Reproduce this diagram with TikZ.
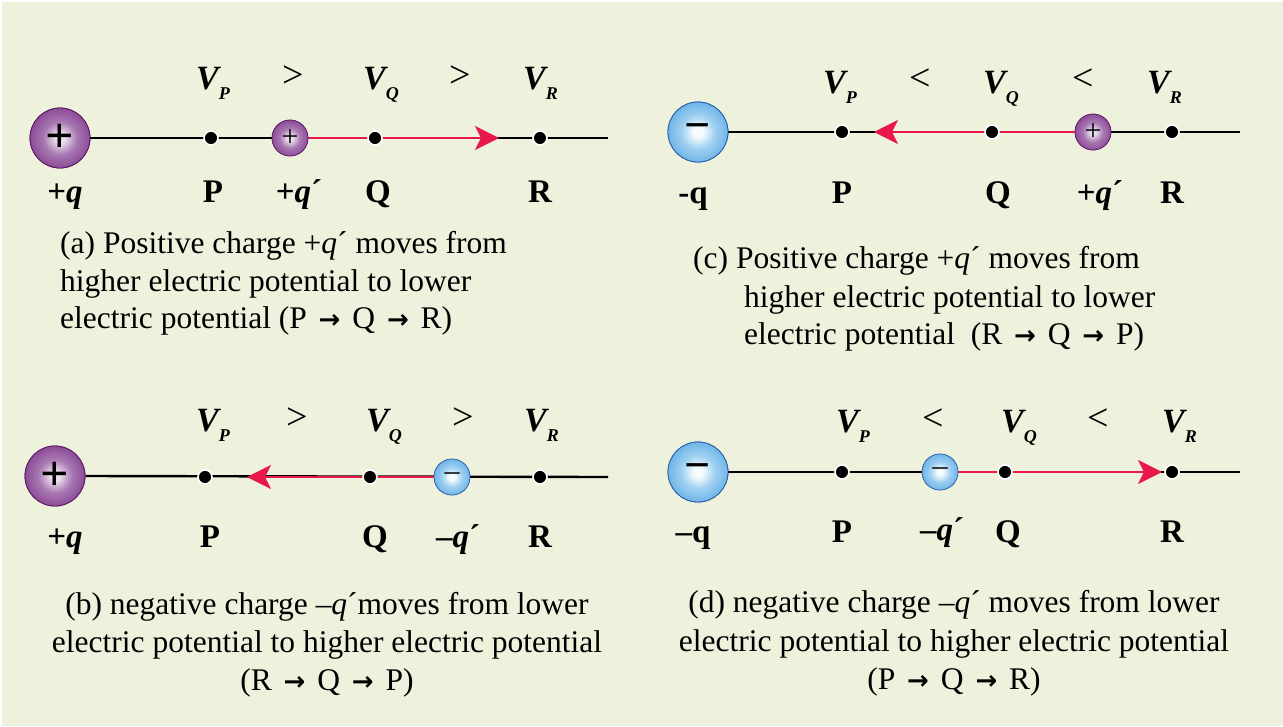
\documentclass[tikz,border=0pt]{standalone}
\usepackage{fontspec}
\setmainfont{Liberation Serif}
\newfontfamily\arrowfont{DejaVu Sans}
\usetikzlibrary{arrows.meta}
\definecolor{bgc}{HTML}{EEF1DC}
\definecolor{redc}{HTML}{E8194A}
\definecolor{pc0}{HTML}{EADEEC}
\definecolor{pc1}{HTML}{A878B2}
\definecolor{pc2}{HTML}{8A4894}
\definecolor{pc3}{HTML}{74307E}
\definecolor{pc4}{HTML}{662070}
\definecolor{pedge}{HTML}{5A1862}
\definecolor{bc0}{HTML}{F6FBFE}
\definecolor{bc1}{HTML}{9FD0F1}
\definecolor{bc2}{HTML}{62AEE4}
\definecolor{bc3}{HTML}{4A9CDB}
\definecolor{bc4}{HTML}{3F92D2}
\definecolor{bedge}{HTML}{2C5CA8}
\pgfdeclareradialshading{posball}{\pgfpointorigin}{color(0bp)=(pc0); color(4bp)=(pc0); color(14bp)=(pc1); color(26bp)=(pc2); color(40bp)=(pc3); color(50bp)=(pc4); color(100bp)=(pc4)}
\pgfdeclareradialshading{negball}{\pgfpointorigin}{color(0bp)=(bc0); color(4bp)=(bc0); color(14bp)=(bc1); color(28bp)=(bc2); color(42bp)=(bc3); color(50bp)=(bc4); color(100bp)=(bc4)}
\newcommand\VV[1]{{\fontsize{34}{34}\selectfont\bfseries\itshape V}\raisebox{-10pt}{\fontsize{18}{18}\selectfont\bfseries\itshape #1}}
\newcommand\rar{\hspace{4pt}{\arrowfont\fontsize{26}{26}\selectfont\bfseries →}\hspace{4pt}}
\tikzset{
  bigpos/.style={circle, minimum size=60pt, inner sep=0pt, shading=posball, draw=pedge, line width=0.8pt, font=\fontsize{50}{50}\selectfont\bfseries},
  bigneg/.style={circle, minimum size=60pt, inner sep=0pt, shading=negball, draw=bedge, line width=0.8pt, font=\fontsize{46}{46}\selectfont\bfseries},
  smallpos/.style={circle, minimum size=36pt, inner sep=0pt, shading=posball, draw=pedge, line width=0.6pt, font=\fontsize{30}{30}\selectfont},
  smallneg/.style={circle, minimum size=36pt, inner sep=0pt, shading=negball, draw=bedge, line width=0.6pt, font=\fontsize{30}{30}\selectfont},
  dotn/.style={circle, fill=black, draw=white, line width=1.6pt, minimum size=14pt, inner sep=0pt},
  wire/.style={black, line width=2.4pt},
  redwire/.style={redc, line width=2.6pt, -{Stealth[length=24pt, width=24pt, inset=6pt]}},
  lbl/.style={anchor=base, font=\fontsize{33}{33}\selectfont\bfseries, inner sep=0pt},
  vlbl/.style={anchor=base west, inner sep=0pt},
  rel/.style={font=\fontsize{38}{38}\selectfont, inner sep=0pt},
  captxt/.style={anchor=base west, font=\fontsize{31.5}{31.5}\selectfont, inner sep=0pt},
  captxtc/.style={anchor=base, font=\fontsize{31.5}{31.5}\selectfont, inner sep=0pt},
}
\begin{document}
\begin{tikzpicture}[x=1pt, y=-1pt]
\useasboundingbox (0,0) rectangle (1283,726);
\fill[white] (0,0) rectangle (1283,726);
\fill[bgc] (2,2) rectangle (1283,726);

% ---------------- (a)
\coordinate (enda) at (608,138);
\coordinate (tipa) at (499,138);
\node[bigpos] (qa) at (60,138) {};
\node[smallpos] (sa) at (290,138) {};
\draw[wire] (qa.east) -- (enda);
\draw[redwire] (sa.east) -- (tipa);
\node[dotn] (pa) at (211,138) {};
\node[dotn] (qqa) at (375,138) {};
\node[dotn] (ra) at (540,138) {};
\node[bigpos] at (qa) {+};
\node[smallpos] at (sa) {+};
\node[vlbl] (vpa) at (196,89) {\VV{P}};
\node[rel] (g1a) at (293,77) {>};
\node[vlbl] (vqa) at (363,89) {\VV{Q}};
\node[rel] (g2a) at (460,77) {>};
\node[vlbl] (vra) at (523,89) {\VV{R}};
\node[lbl] (lqa) at (65,202) {+\textit{q}};
\node[lbl] (lpa) at (213,202) {P};
\node[lbl] (lsa) at (299,202) {+\textit{q}´};
\node[lbl] (lqqa) at (378,202) {Q};
\node[lbl] (lra) at (540,202) {R};
\node[captxt] (ca1) at (60,253) {(a) Positive charge +\textit{q}´ moves from};
\node[captxt] (ca2) at (60,291) {higher electric potential to lower};
\node[captxt] (ca3) at (60,328) {electric potential (P \rar{} Q \rar{} R)};

% ---------------- (c)
\coordinate (endc) at (1240,132);
\coordinate (tipc) at (874,132);
\node[bigneg] (qc) at (698,132) {};
\node[smallpos] (sc) at (1093,132) {};
\draw[wire] (qc.east) -- (endc);
\draw[redwire] (sc.west) -- (tipc);
\node[dotn] (pc) at (842,132) {};
\node[dotn] (qqc) at (992,132) {};
\node[dotn] (rc) at (1172,132) {};
\node[bigneg] at (qc) {−};
\node[smallpos] at (sc) {+};
\node[vlbl] (vpc) at (823,93) {\VV{P}};
\node[rel] (l1c) at (920,80) {<};
\node[vlbl] (vqc) at (983,93) {\VV{Q}};
\node[rel] (l2c) at (1083,80) {<};
\node[vlbl] (vrc) at (1147,93) {\VV{R}};
\node[lbl] (lqc) at (693,203) {-q};
\node[lbl] (lpc) at (842,203) {P};
\node[lbl] (lqqc) at (998,203) {Q};
\node[lbl] (lsc) at (1100,203) {+\textit{q}´};
\node[lbl] (lrc) at (1172,203) {R};
\node[captxt] (cc1) at (693,268) {(c) Positive charge +\textit{q}´ moves from};
\node[captxt] (cc2) at (744,307) {higher electric potential to lower};
\node[captxt] (cc3) at (744,344) {electric potential~ (R \rar{} Q \rar{} P)};

% ---------------- (b)
\coordinate (endb) at (608,477);
\coordinate (tipb) at (247,477);
\node[bigpos] (qb) at (55,476) {};
\node[smallneg] (sb) at (452,477) {};
\draw[wire] (qb.east) -- (endb);
\draw[redwire] (sb.west) -- (tipb);
\node[dotn] (pb) at (205,477) {};
\node[dotn] (qqb) at (370,477) {};
\node[dotn] (rb) at (540,477) {};
\node[bigpos] at (qb) {+};
\node[smallneg] at (sb) {–};
\node[vlbl] (vpb) at (196,431) {\VV{P}};
\node[rel] (g1b) at (297,419) {>};
\node[vlbl] (vqb) at (366,431) {\VV{Q}};
\node[rel] (g2b) at (463,419) {>};
\node[vlbl] (vrb) at (524,431) {\VV{R}};
\node[lbl] (lqb) at (65,547) {+\textit{q}};
\node[lbl] (lpb) at (210,547) {P};
\node[lbl] (lqqb) at (375,547) {Q};
\node[lbl] (lsb) at (458,547) {–\textit{q}´};
\node[lbl] (lrb) at (540,547) {R};
\node[captxtc] (cb1) at (327,614) {(b) negative charge –\textit{q}´moves from lower};
\node[captxtc] (cb2) at (327,652) {electric potential to higher electric potential};
\node[captxtc] (cb3) at (327,690) {(R \rar{} Q \rar{} P)};

% ---------------- (d)
\coordinate (endd) at (1240,472);
\coordinate (tipd) at (1162,472);
\node[bigneg] (qd) at (698,472) {};
\node[smallneg] (sd) at (940,472) {};
\draw[wire] (qd.east) -- (endd);
\draw[redwire] (sd.east) -- (tipd);
\node[dotn] (pd) at (842,472) {};
\node[dotn] (qqd) at (1005,472) {};
\node[dotn] (rd) at (1172,472) {};
\node[bigneg] at (qd) {−};
\node[smallneg] at (sd) {–};
\node[vlbl] (vpd) at (836,432) {\VV{P}};
\node[rel] (l1d) at (933,420) {<};
\node[vlbl] (vqd) at (1001,432) {\VV{Q}};
\node[rel] (l2d) at (1098,420) {<};
\node[vlbl] (vrd) at (1162,432) {\VV{R}};
\node[lbl] (lqd) at (693,542) {–q};
\node[lbl] (lpd) at (842,542) {P};
\node[lbl] (lsd) at (942,540) {–\textit{q}´};
\node[lbl] (lqqd) at (1008,542) {Q};
\node[lbl] (lrd) at (1172,542) {R};
\node[captxtc] (cd1) at (954,612) {(d) negative charge –\textit{q}´ moves from lower};
\node[captxtc] (cd2) at (954,651) {electric potential to higher electric potential};
\node[captxtc] (cd3) at (954,689) {(P \rar{} Q \rar{} R)};
\end{tikzpicture}
\end{document}
